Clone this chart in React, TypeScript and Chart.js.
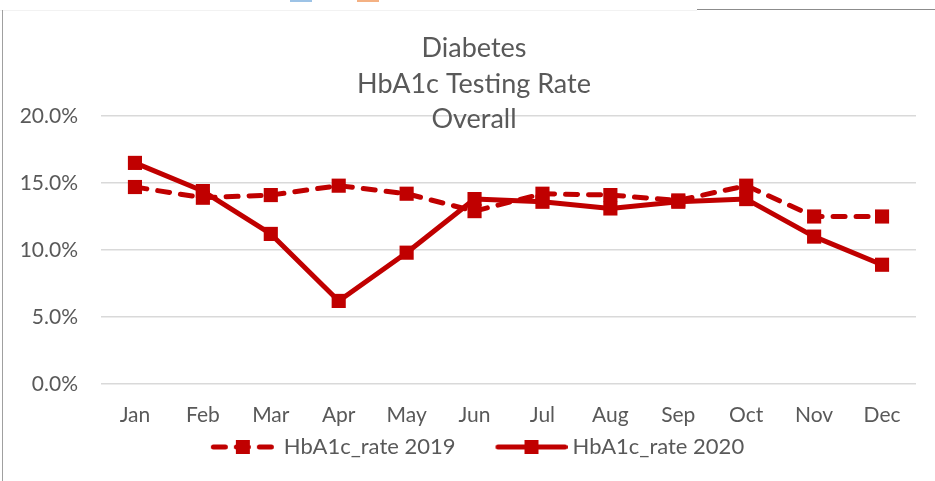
import React, { useEffect, useRef } from "react";
import { Chart, registerables } from "chart.js";

Chart.register(...registerables);

// ---- data ----
const months = ["Jan", "Feb", "Mar", "Apr", "May", "Jun", "Jul", "Aug", "Sep", "Oct", "Nov", "Dec"];
const rate2019 = [0.147, 0.139, 0.141, 0.148, 0.142, 0.129, 0.142, 0.141, 0.137, 0.148, 0.125, 0.125];
const rate2020 = [0.165, 0.144, 0.112, 0.062, 0.098, 0.138, 0.136, 0.131, 0.136, 0.138, 0.110, 0.089];
const seriesLabels = ["HbA1c_rate 2019", "HbA1c_rate 2020"];
const titleLines = ["Diabetes", "HbA1c Testing Rate", "Overall"];
const yMin = 0;
const yMax = 0.2;
const yStep = 0.05;

const RED = "#C00000";
const GREY_TEXT = "#595959";
const FONT = "Lato, 'DejaVu Sans', sans-serif";

// legend swatch: canvas of width `width`, centred on the legend box; the line is
// drawn between lineStart and lineEnd (image coordinates)
function legendImage(width: number, lineStart: number, lineEnd: number, dashed: boolean) {
  const c = document.createElement("canvas");
  c.width = width;
  c.height = 18;
  const ctx = c.getContext("2d")!;
  ctx.strokeStyle = RED;
  ctx.lineWidth = 5;
  ctx.lineCap = "round";
  if (dashed) ctx.setLineDash([12, 11]);
  ctx.beginPath();
  ctx.moveTo(lineStart + 2.5, 9);
  ctx.lineTo(lineEnd - 2.5, 9);
  ctx.stroke();
  ctx.fillStyle = RED;
  const mid = (lineStart + lineEnd) / 2;
  ctx.fillRect(Math.round(mid - 7), 2, 14, 14);
  return c;
}

const titlePlugin = {
  id: "stackedTitle",
  afterDraw(chart: any) {
    const ctx = chart.ctx;
    ctx.save();
    ctx.font = `27px ${FONT}`;
    ctx.fillStyle = GREY_TEXT;
    ctx.textAlign = "center";
    ctx.textBaseline = "alphabetic";
    const baselines = [57, 93, 128];
    titleLines.forEach((t, i) => ctx.fillText(t, 474, baselines[i]));
    ctx.restore();
  },
};

export default function App() {
  const ref = useRef<HTMLCanvasElement | null>(null);

  useEffect(() => {
    document.body.style.margin = "0";
    const BOX = 99;
    // item 1: image spans [x-2, x+BOX+2]; line from x+BOX-62 to x+BOX+2
    // item 2: image spans [x-6, x+BOX+6]; line from x+BOX-66 to x+BOX+6
    const images = [
      legendImage(BOX + 4, BOX - 60, BOX + 4, true),
      legendImage(BOX + 12, BOX - 60, BOX + 12, false),
    ];
    const chart = new Chart(ref.current!, {
      type: "line",
      data: {
        labels: months,
        datasets: [
          {
            label: seriesLabels[0],
            data: rate2019,
            borderColor: RED,
            backgroundColor: RED,
            borderWidth: 5,
            borderDash: [12, 11],
            borderCapStyle: "round",
            borderJoinStyle: "round",
            pointStyle: "rect",
            pointRadius: 10,
            pointHoverRadius: 10,
            pointBorderWidth: 0,
            pointBackgroundColor: RED,
            tension: 0,
          },
          {
            label: seriesLabels[1],
            data: rate2020,
            borderColor: RED,
            backgroundColor: RED,
            borderWidth: 5,
            borderJoinStyle: "round",
            pointStyle: "rect",
            pointRadius: 10,
            pointHoverRadius: 10,
            pointBorderWidth: 0,
            pointBackgroundColor: RED,
            tension: 0,
          },
        ],
      },
      options: {
        animation: false,
        responsive: false,
        layout: { padding: { top: 116, left: 2, right: 19, bottom: 13 } },
        scales: {
          x: {
            offset: true,
            afterFit(scale: any) {
              scale.height = 45;
            },
            grid: { display: false, drawTicks: false },
            border: { display: false },
            ticks: { color: GREY_TEXT, font: { family: FONT, size: 21 }, padding: 19, maxRotation: 0, autoSkip: false },
          },
          y: {
            min: yMin,
            max: yMax,
            afterFit(scale: any) {
              scale.width = 99;
            },
            grid: { color: "#d9d9d9", lineWidth: 1.5, drawTicks: false },
            border: { display: false },
            ticks: {
              stepSize: yStep,
              color: GREY_TEXT,
              font: { family: FONT, size: 21 },
              padding: 23,
              callback: (v: any) => (Number(v) * 100).toFixed(1) + "%",
            },
          },
        },
        plugins: {
          title: { display: false },
          tooltip: { enabled: false },
          legend: {
            position: "bottom",
            labels: {
              usePointStyle: true,
              pointStyleWidth: BOX,
              padding: 7,
              color: GREY_TEXT,
              font: { family: FONT, size: 22 },
              generateLabels: (c: any) =>
                c.data.datasets.map((ds: any, i: number) => ({
                  text: ds.label,
                  pointStyle: images[i],
                  fillStyle: RED,
                  strokeStyle: RED,
                  lineWidth: 0,
                  hidden: false,
                  datasetIndex: i,
                  fontColor: GREY_TEXT,
                })),
            },
          },
        },
      },
      plugins: [titlePlugin],
    } as any);
    return () => chart.destroy();
  }, []);

  return (
    <div style={{ position: "fixed", left: 0, top: 0, width: 935, height: 481, background: "#fff", overflow: "hidden" }}>
      <canvas ref={ref} width={935} height={481} style={{ position: "absolute", left: 0, top: 0 }} />
      <div style={{ position: "absolute", left: 0, top: 10, width: 697, height: 1, background: "#f2f2f2" }} />
      <div style={{ position: "absolute", left: 697, top: 9, width: 238, height: 1, background: "#8c8c8c" }} />
      <div style={{ position: "absolute", left: 2, top: 10, width: 1, height: 471, background: "#a0a0a0" }} />
      <div style={{ position: "absolute", left: 290, top: 0, width: 22, height: 2, background: "#9dc3e6" }} />
      <div style={{ position: "absolute", left: 357, top: 0, width: 22, height: 2, background: "#f4b183" }} />
    </div>
  );
}
